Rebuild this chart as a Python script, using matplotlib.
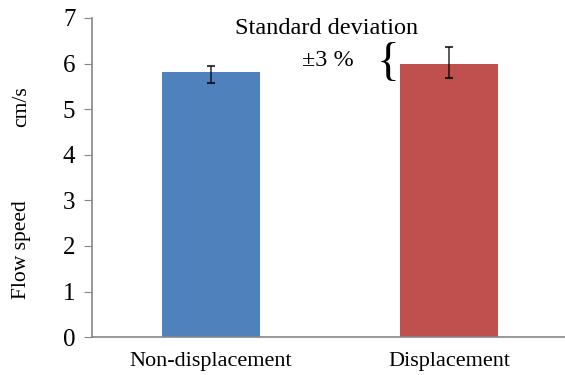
import matplotlib.pyplot as plt

categories = ['Non-displacement', 'Displacement']
flow_speed = [5.82, 6.00]
err_low = [0.25, 0.32]
err_high = [0.13, 0.37]
bar_colors = ['#4f81bd', '#c0504d']

plt.rcParams['font.family'] = ['Liberation Serif', 'DejaVu Serif']

fig = plt.figure(figsize=(5.65, 3.75), dpi=100)
ax = fig.add_axes([0.163, 0.101, 0.837, 0.851])

x = range(len(categories))
ax.bar(x, flow_speed, width=0.41, color=bar_colors,
       yerr=[err_low, err_high], capsize=3,
       error_kw={'elinewidth': 1.2, 'ecolor': 'black', 'capthick': 1.5, 'alpha': 0.75})

ax.set_xlim(-0.5, 1.487)
ax.set_ylim(0, 7)
ax.set_yticks(range(0, 8))
ax.set_xticks(list(x))
ax.set_xticklabels(categories, fontsize=16)
ax.tick_params(axis='y', labelsize=18, length=6, color='#868686', pad=6)
ax.tick_params(axis='x', length=0, pad=11)

for side in ['top', 'right']:
    ax.spines[side].set_visible(False)
for side in ['left', 'bottom']:
    ax.spines[side].set_color('#868686')
    ax.spines[side].set_linewidth(1.2)

fig.text(22 / 565, 1 - 107 / 375, 'cm/s', rotation=90, fontsize=15.5,
         ha='center', va='center')
fig.text(22 / 565, 1 - 250 / 375, 'Flow speed', rotation=90, fontsize=15.5,
         ha='center', va='center')

fig.text(327 / 565, 1 - 28 / 375, 'Standard deviation', fontsize=17.5,
         ha='center', va='center')
fig.text(328 / 565, 1 - 61 / 375, '\u00b13 %', fontsize=17.5,
         ha='center', va='center')
fig.text(388 / 565, 1 - 64 / 375, '{', fontsize=34,
         ha='center', va='center', fontweight='light')

fig.savefig('out.png', dpi=100)
